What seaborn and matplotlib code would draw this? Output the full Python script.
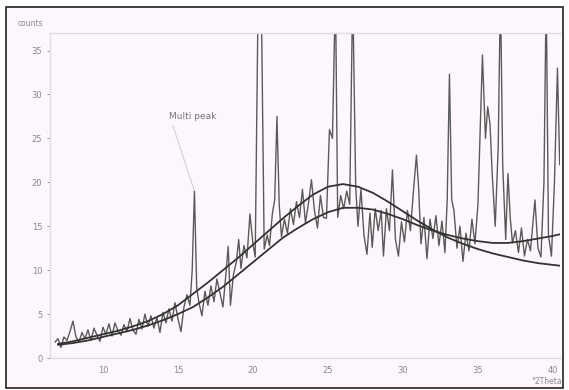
import matplotlib
matplotlib.use("Agg")
import matplotlib.pyplot as plt
import seaborn as sns
import pandas as pd
from matplotlib.patches import Rectangle

# ---- data ----
scan_x = [6.8, 7.0, 7.2, 7.4, 7.6, 7.8, 8.0, 8.2, 8.4, 8.6, 8.8, 9.0, 9.2, 9.4, 9.6, 9.8,
          10.0, 10.2, 10.4, 10.6, 10.8, 11.0, 11.2, 11.4, 11.6, 11.8, 12.0, 12.2, 12.4, 12.6,
          12.8, 13.0, 13.2, 13.4, 13.6, 13.8, 14.0, 14.2, 14.4, 14.6, 14.8, 15.0, 15.2, 15.4,
          15.6, 15.8, 15.95, 16.1, 16.25, 16.4, 16.6, 16.8, 17.0, 17.2, 17.4, 17.6, 17.8, 18.0,
          18.2, 18.35, 18.5, 18.7, 18.9, 19.05, 19.2, 19.4, 19.6, 19.8, 20.0, 20.15, 20.35,
          20.55, 20.75, 20.95, 21.1, 21.3, 21.45, 21.6, 21.75, 21.9, 22.1, 22.3, 22.5, 22.7,
          22.9, 23.1, 23.3, 23.5, 23.7, 23.9, 24.1, 24.3, 24.5, 24.7, 24.9, 25.1, 25.3, 25.5,
          25.65, 25.85, 26.05, 26.25, 26.45, 26.65, 26.85, 27.0, 27.2, 27.4, 27.6, 27.8, 27.95,
          28.15, 28.35, 28.55, 28.7, 28.9, 29.1, 29.3, 29.5, 29.7, 29.9, 30.1, 30.3, 30.5, 30.7,
          30.9, 31.05, 31.2, 31.4, 31.6, 31.8, 32.0, 32.2, 32.4, 32.6, 32.8, 32.95, 33.1, 33.25,
          33.4, 33.6, 33.8, 34.0, 34.2, 34.4, 34.6, 34.8, 35.0, 35.3, 35.5, 35.65, 35.8, 35.95,
          36.15, 36.35, 36.5, 36.65, 36.85, 37.0, 37.15, 37.3, 37.5, 37.7, 37.9, 38.1, 38.3,
          38.5, 38.8, 39.0, 39.2, 39.4, 39.55, 39.7, 39.9, 40.1, 40.3, 40.45]
scan_counts = [1.8, 2.2, 1.2, 2.4, 2.0, 3.0, 4.2, 2.4, 1.8, 2.9, 2.2, 3.2, 2.0, 3.4, 2.6, 1.9,
               3.5, 2.7, 3.9, 2.5, 4.0, 3.1, 2.6, 3.8, 3.0, 4.5, 3.2, 2.7, 4.4, 3.3,
               5.0, 3.6, 4.8, 3.4, 4.6, 2.9, 5.2, 4.0, 5.6, 4.2, 6.3, 4.5, 3.0, 5.8,
               7.2, 6.0, 10.0, 19.0, 8.0, 6.3, 4.8, 7.6, 6.0, 8.2, 6.4, 9.0, 7.4, 5.8,
               9.6, 12.7, 6.0, 9.5, 11.0, 13.5, 10.2, 12.8, 11.4, 16.4, 13.0, 11.5, 42.0,
               42.0, 12.4, 14.0, 12.8, 16.5, 18.0, 27.5, 17.5, 13.8, 15.8, 14.2, 17.0, 15.2,
               17.8, 16.0, 19.2, 15.4, 17.6, 20.3, 16.8, 14.8, 18.5, 16.0, 15.9, 26.0, 25.0, 42.0,
               16.0, 18.5, 17.0, 19.0, 17.5, 42.0, 19.5, 15.0, 19.2, 14.0, 11.8, 16.5, 12.6,
               17.0, 14.5, 16.8, 11.6, 17.0, 14.5, 21.4, 13.5, 11.6, 15.5, 13.2, 16.8, 14.5, 19.0,
               23.1, 19.2, 13.0, 16.0, 11.3, 15.8, 13.6, 16.2, 12.8, 15.6, 12.0, 18.0, 32.3, 18.0,
               16.8, 12.5, 15.0, 11.0, 14.2, 12.2, 15.8, 13.0, 17.5, 34.5, 25.0, 28.6, 26.7, 21.0,
               15.0, 24.0, 42.0, 22.0, 13.5, 21.0, 16.0, 13.1, 14.5, 12.0, 14.8, 11.6, 13.5,
               12.2, 18.0, 12.5, 11.5, 20.0, 42.0, 14.0, 11.6, 20.0, 33.0, 22.0]

fit_x = [7, 8, 9, 10, 11, 12, 13, 14, 15, 16, 17, 18, 19, 20, 21, 22, 23, 24, 25, 26,
         27, 28, 29, 30, 31, 32, 33, 34, 35, 36, 37, 38, 39, 40, 40.5]
fit_a = [1.6, 1.9, 2.3, 2.7, 3.1, 3.6, 4.2, 5.0, 6.0, 7.3, 8.6, 10.0, 11.4, 12.9, 14.4,
         15.9, 17.3, 18.6, 19.5, 19.8, 19.5, 18.8, 17.8, 16.7, 15.6, 14.6, 13.7, 13.0, 12.4,
         11.9, 11.5, 11.1, 10.8, 10.6, 10.5]
fit_b = [1.5, 1.7, 2.0, 2.4, 2.8, 3.2, 3.7, 4.3, 5.0, 5.8, 6.9, 8.1, 9.5, 10.9, 12.3,
         13.7, 14.8, 15.8, 16.6, 17.1, 17.1, 16.9, 16.4, 15.8, 15.1, 14.5, 14.0, 13.6, 13.3,
         13.1, 13.1, 13.3, 13.6, 13.9, 14.1]

y_ticks = [0, 5, 10, 15, 20, 25, 30, 35]
x_ticks = [10, 15, 20, 25, 30, 35, 40]

scan = pd.DataFrame({"x": scan_x, "y": scan_counts})
fits = pd.DataFrame({"x": fit_x, "a": fit_a, "b": fit_b})

sns.set_theme(style="white")
plt.rcParams['font.family'] = ['DejaVu Sans']

fig = plt.figure(figsize=(5.69, 3.90), dpi=100)
fig.patch.set_facecolor("white")
frame = Rectangle((6 / 569, 2 / 390), 557 / 569, 381 / 390, transform=fig.transFigure,
                  facecolor="#fdf7fd", edgecolor="#222222", linewidth=1.2, zorder=-10)
fig.patches.append(frame)

ax = fig.add_axes([50 / 569, 1 - 358 / 390, 510 / 569, 325 / 390])
ax.set_facecolor("#fdf7fd")

sns.lineplot(data=scan, x="x", y="y", ax=ax, color="#5a5a5a", linewidth=1.0,
             estimator=None, sort=False)
sns.lineplot(data=fits, x="x", y="a", ax=ax, color="#333333", linewidth=1.3,
             estimator=None, sort=False)
sns.lineplot(data=fits, x="x", y="b", ax=ax, color="#333333", linewidth=1.3,
             estimator=None, sort=False)

ax.set_xlim(6.47, 40.47)
ax.set_ylim(0, 37)
ax.set_xticks(x_ticks)
ax.set_yticks(y_ticks)
ax.tick_params(axis="both", labelsize=6, colors="#888888", length=2, width=0.6,
               direction="out", left=True, bottom=False)
ax.set_xlabel("")
ax.set_ylabel("")
for side in ["left", "top", "bottom"]:
    ax.spines[side].set_color("#dddddd")
    ax.spines[side].set_linewidth(1.0)
ax.spines["right"].set_visible(False)

fig.text(18 / 569, 1 - 24 / 390, "counts", fontsize=5.5, color="#888888",
         ha="left", va="center")
fig.text(547 / 569, 1 - 381 / 390, "°2Theta", fontsize=5.5, color="#888888",
         ha="center", va="center")

ax.annotate("Multi peak", xy=(16.1, 19.0), xytext=(14.4, 27.0),
            fontsize=6.5, color="#777777", ha="left", va="bottom",
            arrowprops=dict(arrowstyle="-", color="#cccccc", linewidth=0.7,
                            shrinkA=1, shrinkB=1, relpos=(0.05, 0.0)))

fig.savefig("out.png", dpi=100)
